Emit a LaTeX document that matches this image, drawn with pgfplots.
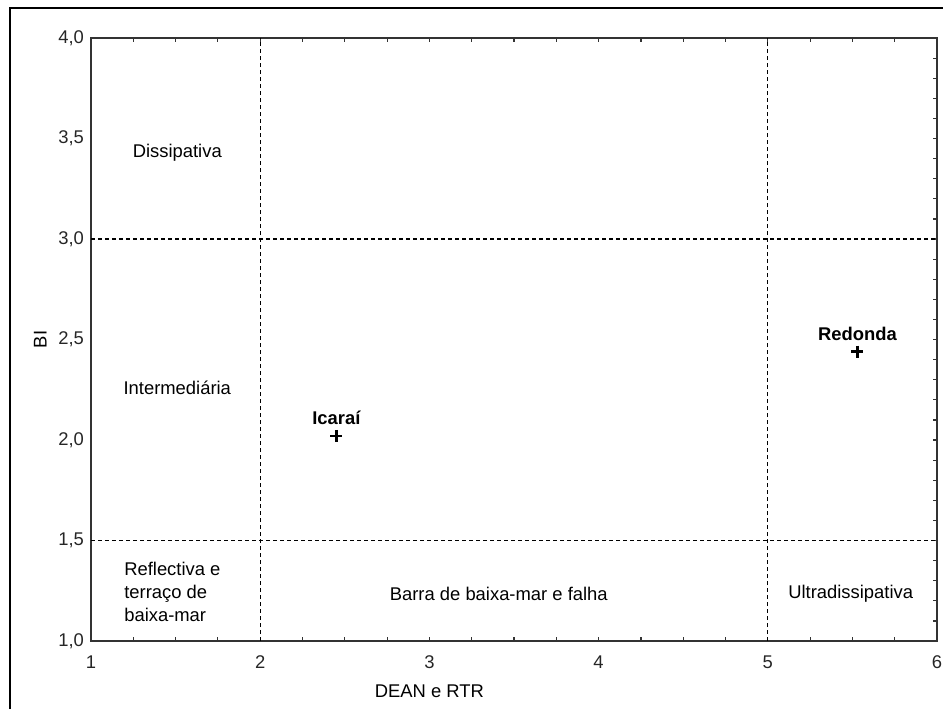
\documentclass[border=0pt]{standalone}
\usepackage{fontspec}
\setmainfont{Liberation Sans}
\usepackage{pgfplots}
\usepackage{pgfplotstable}
\pgfplotsset{compat=1.18}
\newcommand\lbl{\fontsize{9.2pt}{11.5pt}\selectfont}

% Beach positions: DEAN/RTR against BI
\pgfplotstableread{
x    y    label
2.45 2.02 Icaraí
5.53 2.44 Redonda
}\beaches

\begin{document}
\begin{tikzpicture}
\useasboundingbox (0,0) rectangle (471.5pt,-354.5pt);
\draw[line width=0.75pt] (5pt,-354.5pt) -- (5pt,-4pt) -- (471.5pt,-4pt);
\begin{axis}[
  at={(45.5pt,-320.5pt)}, anchor=south west,
  scale only axis, width=423pt, height=301.5pt,
  xmin=1, xmax=6, ymin=1, ymax=4,
  xtick={1,...,6}, minor x tick num=3,
  ytick={1,1.5,...,4}, minor y tick num=4,
  xtick pos=both, ytick pos=right, yticklabel pos=left,
  tick align=inside,
  major tick length=2.2pt, minor tick length=2.2pt,
  axis line style={line width=0.75pt, black!80},
  every tick/.style={black!80, line width=0.6pt},
  /pgf/number format/assume math mode=true,
  every tick label/.append style={font=\lbl, black!85},
  xticklabel style={/pgf/number format/precision=0, yshift=-4pt},
  yticklabel style={/pgf/number format/.cd, fixed, fixed zerofill, precision=1, use comma},
  label style={font=\lbl},
  xlabel={DEAN e RTR},
  xlabel style={at={(axis description cs:0.4,0)}, anchor=center, yshift=-25pt},
  ylabel={BI},
  ylabel style={at={(axis description cs:-0.060,0.5)}, anchor=center},
  clip=false,
]
% regime boundaries
\draw[black, line width=0.55pt, dash pattern=on 2pt off 1.5pt] (axis cs:2,1) -- (axis cs:2,4);
\draw[black, line width=0.55pt, dash pattern=on 2pt off 1.5pt] (axis cs:5,1) -- (axis cs:5,4);
\draw[black, line width=0.55pt, dash pattern=on 2pt off 1.5pt] (axis cs:1,1.5) -- (axis cs:6,1.5);
\draw[black, line width=0.55pt, dash pattern=on 2pt off 1.5pt] (axis cs:1,3) -- (axis cs:6,3);

% regime names
\node[font=\lbl] at (axis cs:1.51,3.43) {Dissipativa};
\node[font=\lbl] at (axis cs:1.51,2.26) {Intermediária};
\node[font=\lbl, align=left, anchor=west] at (axis cs:1.155,1.244) {Reflectiva e\\terraço de\\baixa-mar};
\node[font=\lbl] at (axis cs:3.41,1.234) {Barra de baixa-mar e falha};
\node[font=\lbl] at (axis cs:5.49,1.234) {Ultradissipativa};

\addplot[only marks, mark=+, mark size=3pt, mark options={line width=1.3pt, black},
  nodes near coords, point meta=explicit symbolic,
  nodes near coords style={font=\lbl\bfseries, anchor=base, yshift=5.5pt, black}]
  table[x=x, y=y, meta=label] {\beaches};
\end{axis}
\end{tikzpicture}
\end{document}
